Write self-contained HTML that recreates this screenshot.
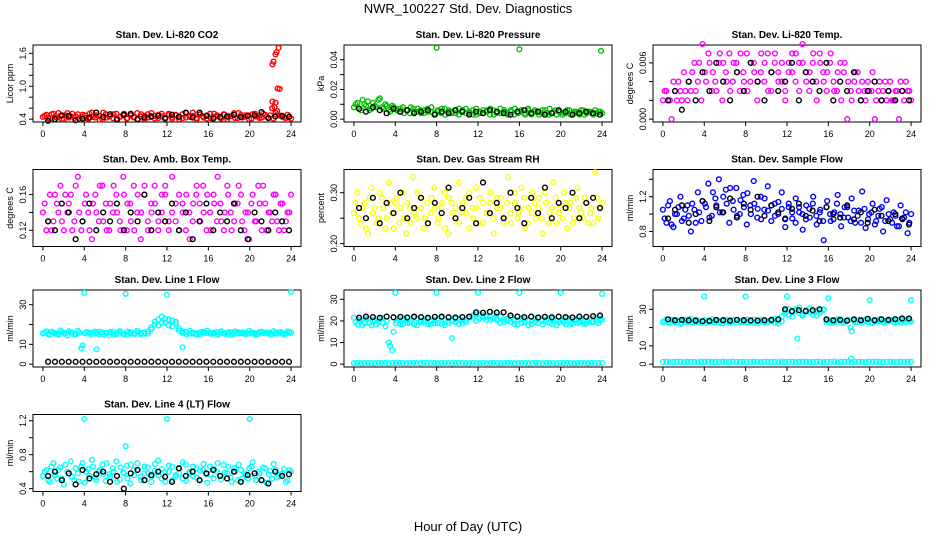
<!DOCTYPE html>
<html><head><meta charset="utf-8">
<style>
html,body{margin:0;padding:0;background:#fff;}
svg{display:block;font-family:"Liberation Sans",Arial,sans-serif;}
</style></head>
<body>
<svg id="c" width="936" height="540" viewBox="0 0 936 540">
<text x="468" y="13" text-anchor="middle" font-size="13">NWR_100227  Std. Dev. Diagnostics</text>
<text x="468" y="531" text-anchor="middle" font-size="13">Hour of Day (UTC)</text>
</svg>
<script>
// ---- data (x of main/black series evenly spaced over the day) ----
const xTicks = [0,4,8,12,16,20,24];
const titles = ["Stan. Dev. Li-820 CO2","Stan. Dev. Li-820 Pressure","Stan. Dev. Li-820 Temp.","Stan. Dev. Amb. Box Temp.","Stan. Dev. Gas Stream RH","Stan. Dev. Sample Flow","Stan. Dev. Line 1 Flow","Stan. Dev. Line 2 Flow","Stan. Dev. Line 3 Flow","Stan. Dev. Line 4 (LT) Flow"];
const yTitles = ["Licor ppm","kPa","degrees C","degrees C","percent","ml/min","ml/min","ml/min","ml/min","ml/min"];
const colors = ["#ff0000","#00c000","#ff00ff","#ff00ff","#ffff00","#0000ff","#00ffff","#00ffff","#00ffff","#00ffff"];
const yLims = [[0.4,1.7],[0,0.048],[0,0.0076],[0.105,0.185],[0.2,0.34],[0.66,1.48],[0,36],[0,33],[0,39],[0.4,1.24]];
const yTickVals = [[0.4,0.6,0.8,1.0,1.2,1.4,1.6],[0,0.01,0.02,0.03,0.04],[0,0.002,0.004,0.006],[0.12,0.14,0.16],[0.2,0.25,0.3],[0.8,1.0,1.2,1.4],[0,10,20,30],[0,10,20,30],[0,10,20,30],[0.4,0.6,0.8,1.0,1.2]];
const yTickLabels = [["0.4","","","1.0","","","1.6"],["0.00","","0.02","","0.04"],["0.000","","","0.006"],["0.12","","0.16"],["0.20","","0.30"],["0.8","","1.2",""],["0","10","","30"],["0","10","20","30"],["0","10","","30"],["0.4","","0.8","","1.2"]];

const mainY0 = [0.44,0.48,0.41,0.50,0.43,0.46,0.40,0.51,0.45,0.42,0.49,0.44,0.47,0.41,0.52,0.43,0.46,0.40,0.49,0.45,0.42,0.50,0.44,0.47,0.41,0.48,0.43,0.51,0.45,0.40,0.49,0.44,0.46,0.42,0.50,0.43,0.47,0.41,0.48,0.45,0.42,0.51,0.44,0.46,0.40,0.49,0.43,0.47,0.42,0.50,0.45,0.41,0.48,0.44,0.46,0.42,0.51,0.43,0.47,0.40,0.49,0.45,0.42,0.50,0.44,0.47,0.41,0.55,0.46,0.43,0.48,0.41];
const mainY1 = [0.008,0.011,0.006,0.010,0.012,0.007,0.009,0.013,0.008,0.010,0.006,0.009,0.007,0.005,0.008,0.006,0.004,0.007,0.005,0.006,0.004,0.007,0.005,0.003,0.006,0.004,0.007,0.005,0.004,0.006,0.003,0.005,0.007,0.004,0.006,0.003,0.005,0.004,0.006,0.007,0.003,0.005,0.004,0.006,0.003,0.005,0.007,0.004,0.005,0.003,0.006,0.004,0.005,0.003,0.006,0.004,0.007,0.005,0.003,0.005,0.004,0.006,0.003,0.005,0.004,0.006,0.003,0.005,0.004,0.006,0.005,0.004];
const mainY2 = [0.002,0.003,0.002,0.004,0.002,0.003,0.005,0.002,0.003,0.006,0.004,0.002,0.005,0.007,0.003,0.004,0.006,0.002,0.005,0.007,0.004,0.006,0.003,0.005,0.007,0.004,0.006,0.002,0.005,0.004,0.007,0.003,0.006,0.005,0.004,0.002,0.006,0.005,0.007,0.003,0.006,0.004,0.005,0.007,0.002,0.006,0.004,0.005,0.007,0.003,0.005,0.002,0.006,0.004,0.002,0.005,0.003,0.004,0.002,0.003,0.005,0.002,0.004,0.003,0.002,0.004,0.002,0.003,0.004,0.002,0.003,0.002];
const mainY3 = [0.14,0.12,0.16,0.13,0.15,0.17,0.12,0.14,0.16,0.13,0.18,0.12,0.15,0.14,0.11,0.16,0.13,0.17,0.15,0.12,0.14,0.16,0.13,0.18,0.12,0.15,0.17,0.14,0.11,0.16,0.13,0.15,0.17,0.12,0.14,0.16,0.13,0.18,0.15,0.12,0.14,0.16,0.11,0.15,0.17,0.13,0.14,0.16,0.12,0.15,0.18,0.13,0.14,0.16,0.12,0.15,0.17,0.13,0.14,0.11,0.16,0.13,0.15,0.17,0.12,0.14,0.16,0.13,0.15,0.12,0.14,0.16];
const mainY4 = [0.26,0.30,0.24,0.28,0.22,0.31,0.27,0.25,0.29,0.23,0.32,0.26,0.28,0.24,0.30,0.22,0.27,0.33,0.25,0.29,0.23,0.28,0.26,0.31,0.24,0.27,0.30,0.22,0.28,0.25,0.32,0.26,0.29,0.23,0.27,0.31,0.24,0.28,0.26,0.30,0.22,0.27,0.29,0.25,0.33,0.24,0.28,0.26,0.31,0.23,0.27,0.30,0.25,0.29,0.22,0.28,0.26,0.32,0.24,0.27,0.30,0.23,0.28,0.25,0.31,0.26,0.29,0.24,0.27,0.34,0.25,0.28];
const mainY5 = [1.05,0.90,1.15,0.85,1.00,1.20,0.95,1.10,0.80,1.05,1.25,0.92,1.12,1.35,0.98,1.18,1.40,1.02,1.28,0.90,1.15,1.30,1.00,1.22,0.88,1.10,1.38,0.96,1.20,1.05,1.32,0.92,1.12,1.00,1.25,0.85,1.08,0.95,1.18,1.02,0.82,1.10,0.96,1.20,0.88,1.05,0.70,1.15,0.92,1.02,1.22,0.86,1.08,0.96,1.18,0.90,1.04,1.26,0.84,1.00,1.12,0.92,1.06,0.80,1.16,0.94,1.02,0.86,1.10,0.96,0.78,1.00];
const mainY6 = [15.5,16.5,14.8,16.0,15.2,17.0,15.8,14.5,16.2,15.0,16.8,8.0,15.5,16.0,14.8,16.5,15.2,16.0,15.8,14.6,16.4,15.0,16.6,15.4,14.9,16.2,15.6,16.8,15.1,16.0,15.4,18.5,20.0,22.5,21.0,23.0,19.5,22.0,20.5,18.0,16.5,15.2,16.8,15.5,14.9,16.2,15.7,16.9,15.3,16.0,15.0,16.6,15.4,16.2,14.8,16.5,15.6,16.0,15.2,16.8,15.5,14.9,16.3,15.7,16.0,15.1,16.6,15.4,16.2,15.0,16.5,15.8];
const mainY7 = [21.5,18.5,20.5,19.0,21.0,18.0,20.0,19.5,21.5,17.5,10.0,6.5,19.0,21.0,18.5,20.5,19.0,21.5,18.0,20.0,19.5,21.0,18.5,20.5,19.0,21.5,18.0,20.0,12.0,21.0,18.5,20.5,19.5,21.5,22.5,20.0,23.0,21.5,22.0,20.5,23.5,21.0,22.0,19.5,20.0,21.5,18.5,20.5,19.0,21.0,18.0,20.0,19.5,21.5,18.5,20.5,19.0,21.0,18.0,20.0,19.5,21.5,18.5,20.5,19.0,21.0,18.5,20.0,19.5,21.5,19.0,20.5];
const mainY8 = [23.0,24.5,22.5,24.0,23.5,22.0,24.2,23.0,24.8,22.6,23.8,22.4,24.0,23.2,24.6,22.8,23.6,22.2,24.4,23.0,24.0,22.6,23.4,24.2,22.8,23.6,24.4,22.4,23.2,24.0,22.8,23.6,24.8,22.2,23.4,28.0,30.0,26.0,29.5,31.0,27.5,29.0,30.5,28.5,26.5,29.0,30.0,24.0,22.5,23.5,24.5,22.8,23.6,24.2,18.0,23.0,24.4,22.6,23.8,24.0,22.4,23.4,24.6,22.8,23.6,24.2,23.0,24.0,22.6,23.8,24.4,23.2];
const mainY9 = [0.55,0.62,0.48,0.70,0.52,0.65,0.45,0.60,0.72,0.50,0.58,0.66,0.47,0.63,0.74,0.53,0.60,0.68,0.49,0.57,0.64,0.72,0.51,0.59,0.67,0.46,0.62,0.70,0.54,0.58,0.65,0.48,0.61,0.73,0.52,0.60,0.67,0.50,0.56,0.64,0.71,0.49,0.58,0.66,0.53,0.61,0.69,0.47,0.57,0.63,0.70,0.51,0.59,0.66,0.48,0.60,0.68,0.52,0.56,0.64,0.71,0.50,0.58,0.65,0.47,0.61,0.69,0.53,0.57,0.63,0.50,0.60];
const mainY = [mainY0,mainY1,mainY2,mainY3,mainY4,mainY5,mainY6,mainY7,mainY8,mainY9];

// second interleaved set of samples (drawn offset half a step in time)
const subY0 = [0.46,0.42,0.49,0.44,0.51,0.40,0.47,0.43,0.50,0.45,0.41,0.48,0.42,0.50,0.44,0.47,0.39,0.52,0.43,0.46,0.49,0.41,0.45,0.50,0.42,0.47,0.44,0.40,0.49,0.46,0.43,0.51,0.41,0.48,0.45,0.42,0.50,0.44,0.47,0.40,0.49,0.43,0.46,0.52,0.42,0.48,0.45,0.41,0.50,0.44,0.47,0.43,0.49,0.40,0.46,0.51,0.42,0.48,0.44,0.47,0.41,0.50,0.45,0.43,0.48,0.42,0.60,0.52,0.47,0.44,0.42,0.45];
const subY1 = [0.010,0.007,0.013,0.009,0.006,0.011,0.008,0.014,0.007,0.009,0.005,0.008,0.006,0.007,0.004,0.006,0.008,0.005,0.007,0.004,0.006,0.005,0.008,0.004,0.005,0.007,0.003,0.006,0.005,0.004,0.007,0.006,0.004,0.005,0.003,0.007,0.004,0.006,0.005,0.003,0.006,0.004,0.007,0.005,0.004,0.006,0.003,0.005,0.006,0.004,0.007,0.003,0.006,0.005,0.004,0.006,0.003,0.004,0.006,0.005,0.003,0.004,0.006,0.004,0.005,0.003,0.006,0.004,0.005,0.003,0.004,0.005];
const subY2 = [0.003,0.002,0.000,0.003,0.004,0.002,0.003,0.004,0.005,0.003,0.006,0.008,0.004,0.006,0.005,0.003,0.007,0.006,0.004,0.003,0.006,0.005,0.007,0.004,0.003,0.006,0.005,0.004,0.007,0.006,0.003,0.005,0.007,0.004,0.006,0.003,0.005,0.007,0.004,0.006,0.008,0.005,0.003,0.006,0.004,0.007,0.005,0.003,0.006,0.004,0.003,0.006,0.005,0.000,0.003,0.004,0.005,0.002,0.003,0.004,0.003,0.000,0.003,0.002,0.004,0.003,0.002,0.003,0.000,0.003,0.004,0.003];
const subY3 = [0.15,0.13,0.12,0.16,0.14,0.13,0.16,0.15,0.12,0.17,0.14,0.13,0.16,0.12,0.15,0.14,0.17,0.13,0.12,0.15,0.17,0.14,0.12,0.16,0.15,0.13,0.12,0.16,0.14,0.17,0.12,0.14,0.15,0.13,0.16,0.17,0.12,0.14,0.13,0.16,0.15,0.12,0.14,0.13,0.16,0.15,0.17,0.12,0.14,0.16,0.13,0.15,0.12,0.17,0.14,0.13,0.15,0.16,0.12,0.14,0.15,0.13,0.17,0.12,0.15,0.14,0.13,0.16,0.12,0.15,0.13,0.14];
const subY4 = [0.28,0.25,0.27,0.23,0.29,0.26,0.24,0.30,0.27,0.25,0.28,0.23,0.29,0.27,0.25,0.28,0.24,0.26,0.30,0.27,0.25,0.24,0.29,0.27,0.25,0.28,0.23,0.29,0.26,0.27,0.24,0.28,0.26,0.30,0.25,0.27,0.29,0.24,0.26,0.28,0.25,0.29,0.27,0.24,0.28,0.26,0.30,0.25,0.27,0.29,0.24,0.26,0.28,0.27,0.25,0.30,0.24,0.27,0.29,0.26,0.25,0.28,0.27,0.24,0.29,0.27,0.25,0.28,0.26,0.24,0.29,0.27];
const subY5 = [0.95,1.10,0.88,1.00,1.08,0.92,1.05,0.98,1.12,0.90,1.02,1.15,1.08,0.96,1.25,1.10,1.02,1.20,1.12,1.30,1.05,0.98,1.16,1.08,1.24,1.00,1.12,1.06,0.94,1.18,1.04,1.10,0.98,1.14,1.06,0.95,1.12,1.02,0.90,1.08,1.00,0.94,1.06,1.12,0.98,1.02,0.92,1.08,1.00,0.94,1.12,1.00,0.96,1.08,0.92,1.04,0.98,0.90,1.06,0.94,1.02,0.88,0.98,1.08,0.92,1.00,0.90,0.98,0.86,0.94,1.02,0.90];
const subY6 = [16.0,15.2,16.4,15.6,15.0,16.2,15.4,16.6,15.8,15.0,16.0,9.5,16.2,15.4,16.0,15.6,16.4,15.0,15.8,16.2,15.2,15.8,16.0,15.2,16.4,15.6,15.2,16.0,15.6,15.4,16.6,17.5,21.5,19.5,24.0,21.0,22.5,19.0,21.5,17.0,15.8,16.4,15.4,16.0,15.6,15.2,16.4,15.8,16.0,15.4,16.2,15.6,15.8,15.2,16.0,15.4,16.2,15.6,15.8,15.4,16.0,15.6,15.2,16.4,15.6,16.0,15.2,15.8,16.0,15.6,15.4,16.2];
const subY7 = [19.5,20.5,18.0,21.0,19.0,20.5,18.5,21.0,19.0,20.0,8.5,15.0,20.0,18.5,21.0,19.0,20.0,18.5,21.0,19.5,20.5,18.5,20.0,19.0,21.0,18.5,20.5,19.0,20.0,19.5,21.0,19.0,20.5,22.0,21.5,23.0,21.0,22.5,20.5,22.0,21.0,20.5,19.0,20.5,21.0,19.5,20.0,18.5,21.0,19.5,20.5,18.5,21.0,19.0,20.0,19.5,21.0,18.5,20.5,19.5,20.0,18.5,21.0,19.0,20.5,19.5,20.0,19.0,21.0,19.5,20.0,21.0];
const subY8 = [23.5,22.8,24.2,23.0,23.8,22.5,24.0,23.4,22.8,24.2,23.0,23.6,22.6,24.0,23.2,23.8,22.8,24.2,23.4,22.6,23.8,24.0,22.8,23.2,24.4,23.0,22.6,23.8,24.0,22.8,23.4,24.2,22.6,23.6,26.0,29.0,27.0,28.5,30.0,28.0,26.5,29.5,28.5,27.0,29.0,28.0,29.5,23.0,24.0,22.8,23.4,24.2,22.6,23.8,20.0,24.0,22.8,23.6,24.2,23.0,22.8,24.0,23.4,24.4,22.8,23.6,24.0,22.8,23.6,24.2,23.0,23.8];
const subY9 = [0.60,0.50,0.66,0.56,0.62,0.52,0.68,0.58,0.54,0.64,0.48,0.70,0.60,0.55,0.66,0.50,0.62,0.57,0.70,0.54,0.60,0.48,0.65,0.58,0.52,0.68,0.56,0.62,0.50,0.66,0.58,0.54,0.69,0.56,0.63,0.48,0.60,0.66,0.54,0.58,0.52,0.68,0.60,0.55,0.64,0.50,0.62,0.57,0.66,0.52,0.60,0.55,0.68,0.58,0.53,0.64,0.50,0.62,0.58,0.52,0.66,0.55,0.60,0.50,0.64,0.57,0.52,0.62,0.55,0.58,0.48,0.62];
const subY = [subY0,subY1,subY2,subY3,subY4,subY5,subY6,subY7,subY8,subY9];

const blkY0 = [0.37,0.40,0.47,0.46,0.38,0.41,0.43,0.52,0.44,0.49,0.39,0.48,0.50,0.40,0.43,0.45,0.46,0.41,0.48,0.44,0.52,0.43,0.52,0.46,0.41,0.44,0.45,0.48,0.44,0.46,0.47,0.53,0.42,0.45,0.46,0.44];
const blkY1 = [0.007,0.005,0.008,0.006,0.004,0.007,0.005,0.006,0.004,0.005,0.006,0.003,0.005,0.004,0.006,0.005,0.003,0.005,0.004,0.006,0.005,0.004,0.003,0.005,0.006,0.004,0.005,0.003,0.004,0.006,0.005,0.003,0.004,0.005,0.004,0.003];
const blkY2 = [0.002,0.003,0.001,0.004,0.002,0.005,0.003,0.006,0.004,0.002,0.005,0.003,0.006,0.004,0.002,0.005,0.003,0.004,0.006,0.002,0.005,0.004,0.003,0.006,0.002,0.004,0.003,0.005,0.002,0.003,0.004,0.002,0.003,0.002,0.003,0.002];
const blkY3 = [0.13,0.12,0.15,0.14,0.11,0.13,0.15,0.12,0.14,0.13,0.15,0.12,0.14,0.13,0.16,0.12,0.14,0.13,0.15,0.12,0.14,0.11,0.13,0.15,0.12,0.14,0.13,0.15,0.12,0.11,0.14,0.13,0.12,0.14,0.13,0.12];
const blkY4 = [0.27,0.25,0.29,0.24,0.28,0.26,0.30,0.25,0.27,0.29,0.24,0.28,0.26,0.31,0.25,0.27,0.29,0.24,0.32,0.26,0.28,0.25,0.30,0.27,0.24,0.29,0.26,0.31,0.25,0.28,0.27,0.30,0.25,0.28,0.29,0.27];
const blkY5 = [0.95,1.05,1.10,0.90,1.00,1.15,0.92,1.08,1.02,1.18,0.96,1.12,1.05,1.20,0.98,1.10,1.02,0.94,1.06,1.12,0.98,1.04,0.92,1.08,1.00,0.96,1.10,0.94,1.02,0.90,1.05,0.98,0.92,1.00,0.95,0.88];
const blkY6 = [1.2,1.2,1.2,1.2,1.2,1.2,1.2,1.2,1.2,1.2,1.2,1.2,1.2,1.2,1.2,1.2,1.2,1.2,1.2,1.2,1.2,1.2,1.2,1.2,1.2,1.2,1.2,1.2,1.2,1.2,1.2,1.2,1.2,1.2,1.2,1.2];
const blkY7 = [21.5,22.0,21.8,21.5,22.0,21.7,21.9,21.6,22.0,21.8,21.5,21.9,22.0,21.7,21.6,21.8,22.0,24.0,23.8,24.2,23.9,24.0,22.5,22.0,21.8,22.0,21.6,21.9,21.7,22.0,21.8,21.6,22.0,21.9,22.2,22.5];
const blkY8 = [24.5,24.0,24.2,24.0,23.8,23.5,23.6,24.2,24.0,23.8,24.2,24.0,23.9,23.8,24.0,24.2,24.5,30.0,29.0,29.5,29.0,29.5,30.0,24.5,24.0,24.2,23.8,24.5,24.0,24.8,24.0,24.5,24.2,24.6,25.0,25.0];
const blkY9 = [0.55,0.60,0.50,0.58,0.45,0.62,0.52,0.57,0.60,0.48,0.55,0.40,0.58,0.62,0.50,0.56,0.60,0.54,0.48,0.64,0.55,0.60,0.50,0.58,0.62,0.55,0.52,0.60,0.48,0.56,0.58,0.50,0.46,0.60,0.55,0.57];
const blkY = [blkY0,blkY1,blkY2,blkY3,blkY4,blkY5,blkY6,blkY7,blkY8,blkY9];

// baseline (zero-flow) series for line flows
const baseY6 = [];
const baseY7 = [0.5,0.6,0.4,0.5,0.6,0.5,0.4,0.6,0.5,0.5,0.4,0.6,0.5,0.6,0.5,0.4,0.5,0.6,0.5,0.4,0.6,0.5,0.5,0.6,0.4,0.5,0.6,0.5,0.4,0.5,0.6,0.5,0.5,0.4,0.6,0.5,0.5,0.6,0.4,0.5,0.6,0.5,0.4,0.5,0.6,0.5,0.4,0.5,0.5,0.6,0.4,0.5,0.6,0.5,0.4,0.6,0.5,0.5,0.4,0.6,0.5,0.6,0.5,0.4,0.5,0.6,0.5,0.4,0.6,0.5,0.5,0.6];
const baseY8 = [1.2,1.3,1.1,1.2,1.3,1.2,1.1,1.3,1.2,1.2,1.1,1.3,1.2,1.3,1.2,1.1,1.2,1.3,1.2,1.1,1.3,1.2,1.2,1.3,1.1,1.2,1.3,1.2,1.1,1.2,1.3,1.2,1.2,1.1,1.3,1.2,1.2,1.3,1.1,1.2,1.3,1.2,1.1,1.2,1.3,1.2,1.1,1.2,1.2,1.3,1.1,1.2,1.3,1.2,1.1,1.3,1.2,1.2,1.1,1.3,1.2,1.3,1.2,1.1,1.2,1.3,1.2,1.1,1.3,1.2,1.2,1.3];

// outliers
const outX0 = [22.2,22.3,22.5,22.6,22.8,22.7,22.9,22.2,22.5,22.4], outY0 = [1.40,1.45,1.58,1.62,1.70,0.96,0.95,0.72,0.70,0.62];
const outX1 = [8,16,23.9], outY1 = [0.048,0.047,0.046];
const outX6 = [4,8,12,24,13.5,5.2], outY6 = [36,35.5,35,36.5,8.5,7.5];
const outX7 = [4,8,12,16,20,24], outY7 = [33,33,33,33,33,32.5];
const outX8 = [4,8,12,13,16,20,24,18.2], outY8 = [37,37,37,14,36,35,35,3];
const outX9 = [4,8,12,20], outY9 = [1.22,0.9,1.22,1.22];
const outX = {0:outX0,1:outX1,6:outX6,7:outX7,8:outX8,9:outX9};
const outY = {0:outY0,1:outY1,6:outY6,7:outY7,8:outY8,9:outY9};
const baseY = {6:baseY6,7:baseY7,8:baseY8};

// ---- layout ----
const colL = [33,344,653], W = 268, rowT = [45,169.5,290,414.5], H = 77;
const svg = document.getElementById('c');
const NS = 'http://www.w3.org/2000/svg';
function mk(tag, attrs, parent){ const e=document.createElementNS(NS,tag); for(const k in attrs) e.setAttribute(k,attrs[k]); (parent||svg).appendChild(e); return e; }

for (let p=0;p<10;p++){
  const L = colL[p%3], T = rowT[Math.floor(p/3)];
  const g = mk('g',{});
  
  
  const xs = h => L + W*(h+0.96)/25.92;
  const [y0,y1] = yLims[p]; const pad=(y1-y0)*0.04;
  const ys = v => T + H - H*(v-(y0-pad))/((y1-y0)+2*pad);
  const box = mk('rect',{x:L,y:T,width:W,height:H,fill:'none',stroke:'#000','stroke-width':1},g);
  
  
  const t = mk('text',{x:L+W/2,y:T-7,'text-anchor':'middle','font-size':10,'font-weight':'bold'},g);
  t.textContent = titles[p];
  
  
  xTicks.forEach(v=>{
    const x=xs(v);
    mk('line',{x1:x,x2:x,y1:T+H,y2:T+H+4,stroke:'#000'},g);
    const tl=mk('text',{x:x,y:T+H+15,'text-anchor':'middle','font-size':9},g);
    tl.textContent=v;
    
    
  });
  yTickVals[p].forEach((v,i)=>{
    const y=ys(v);
    mk('line',{x1:L-4,x2:L,y1:y,y2:y,stroke:'#000'},g);
    const lab=yTickLabels[p][i];
    if(lab){
      const tl=mk('text',{x:L-7,y:y,'text-anchor':'middle','font-size':9,transform:`rotate(-90 ${L-7} ${y})`},g);
      tl.textContent=lab;
      
      
    }
  });
  const yt=mk('text',{x:L-20,y:T+H/2,'text-anchor':'middle','font-size':9,transform:`rotate(-90 ${L-20} ${T+H/2})`},g);
  yt.textContent=yTitles[p];
  
  
  const clip = mk('g',{},g);
  function dot(x,y,c,r){ const e=mk('circle',{cx:x,cy:y,r:r||2.4,fill:'none',stroke:c,'stroke-width':1.4},clip); return e; }
  if(baseY[p]){ const a=baseY[p]; a.forEach((v,i)=>{ const e=dot(xs(i*24/(a.length-1)),ys(v),colors[p]);   }); }
  const m=mainY[p];
  m.forEach((v,i)=>{ const e=dot(xs(i*24/(m.length-1)),ys(v),colors[p]);   });
  const s=subY[p];
  s.forEach((v,i)=>{ const e=dot(xs(0.17+i*23.66/(s.length-1)),ys(v),colors[p]);   });
  if(outX[p]){ outX[p].forEach((h,i)=>{ const e=dot(xs(h),ys(outY[p][i]),colors[p]);   }); }
  const b=blkY[p];
  b.forEach((v,i)=>{ const e=dot(xs(0.5+i*23.3/(b.length-1)),ys(v),'#000');   });
}
</script>
</body></html>
